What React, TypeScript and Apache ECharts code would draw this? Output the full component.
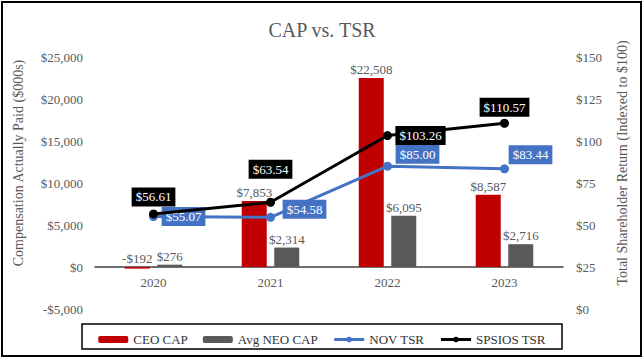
import React, { useEffect, useRef } from "react";
import * as echarts from "echarts";

const years = ["2020", "2021", "2022", "2023"];
const ceoCap = [-192, 7853, 22508, 8587];
const neoCap = [276, 2314, 6095, 2716];
const novTsr = [55.07, 54.58, 85.0, 83.44];
const spsiosTsr = [56.61, 63.54, 103.26, 110.57];
const novLabelOffsets = [[30, 0], [34, -8], [30, -12], [26, -14]];
const spsiosLabelOffsets = [[0, -17], [0, -33], [33, 0], [0, -16]];
const leftAxisTitle = "Compensation Actually Paid ($000s)";
const rightAxisTitle = "Total Shareholder Return (Indexed to $100)";

const FONT = "Liberation Serif";
const GRAY = "#595959";

function money(v: number): string {
  const s = "$" + Math.abs(v).toLocaleString("en-US");
  return v < 0 ? "-" + s : s;
}

export default function App() {
  const ref = useRef<HTMLDivElement>(null);
  useEffect(() => {
    if (!ref.current) return;
    const chart = echarts.init(ref.current, undefined, { renderer: "svg" });
    const gridTop = 57;
    const gridBottom = 51;
    const plotH = 360 - gridTop - gridBottom;
    const zeroShift = (plotH * 5000) / 30000;
    const barLabel = {
      show: true,
      position: "top" as const,
      distance: 2,
      fontFamily: FONT,
      fontSize: 13,
      color: GRAY,
      formatter: (p: any) => money(p.value),
    };
    const lineLabel = (bg: string) => ({
      show: true,
      position: "inside" as const,
      fontFamily: FONT,
      fontSize: 13,
      color: "#fff",
      backgroundColor: bg,
      padding: [3, 4],
      formatter: (p: any) => "$" + Number(p.value).toFixed(2),
    });
    chart.setOption({
      animation: false,
      backgroundColor: "#fff",
      textStyle: { fontFamily: FONT },
      title: {
        text: "CAP vs. TSR",
        left: "center",
        top: 15,
        textStyle: { fontFamily: FONT, fontSize: 20, fontWeight: "normal", color: GRAY },
      },
      grid: { left: 95, right: 81, top: gridTop, bottom: gridBottom },
      legend: {
        top: 328,
        left: "center",
        itemGap: 15,
        itemWidth: 30,
        itemHeight: 7,
        lineStyle: { width: 3 },
        textStyle: { fontFamily: FONT, fontSize: 13, color: "#333" },
        data: ["CEO CAP", "Avg NEO CAP", "NOV TSR", "SPSIOS TSR"],
      },
      xAxis: {
        type: "category",
        data: years,
        position: "bottom",
        offset: -zeroShift,
        axisLine: { onZero: false, lineStyle: { color: "#404040", width: 1.5 } },
        axisTick: { show: false },
        axisLabel: { fontFamily: FONT, fontSize: 13, color: GRAY, margin: 9 },
      },
      yAxis: [
        {
          type: "value",
          min: -5000,
          max: 25000,
          interval: 5000,
          splitLine: { show: false },
          axisLine: { show: false },
          axisTick: { show: false },
          axisLabel: {
            fontFamily: FONT,
            fontSize: 13,
            color: GRAY,
            margin: 12,
            formatter: (v: number) => money(v),
          },
        },
        {
          type: "value",
          min: 0,
          max: 150,
          interval: 25,
          splitLine: { show: false },
          axisLine: { show: false },
          axisTick: { show: false },
          axisLabel: {
            fontFamily: FONT,
            fontSize: 13,
            color: GRAY,
            margin: 13,
            formatter: (v: number) => "$" + v,
          },
        },
      ],
      series: [
        {
          name: "CEO CAP",
          type: "bar",
          data: ceoCap,
          barWidth: 25,
          barGap: "30%",
          itemStyle: { color: "#C00000" },
          label: barLabel,
        },
        {
          name: "Avg NEO CAP",
          type: "bar",
          data: neoCap,
          barWidth: 25,
          itemStyle: { color: "#595959" },
          label: barLabel,
        },
        {
          name: "NOV TSR",
          type: "line",
          yAxisIndex: 1,
          data: novTsr.map((v, i) => ({ value: v, label: { offset: novLabelOffsets[i] } })),
          symbol: "circle",
          symbolSize: 9,
          lineStyle: { color: "#4472C4", width: 3 },
          itemStyle: { color: "#4472C4" },
          label: lineLabel("#4472C4"),
          z: 5,
        },
        {
          name: "SPSIOS TSR",
          type: "line",
          yAxisIndex: 1,
          data: spsiosTsr.map((v, i) => ({ value: v, label: { offset: spsiosLabelOffsets[i] } })),
          symbol: "circle",
          symbolSize: 9,
          lineStyle: { color: "#000", width: 3 },
          itemStyle: { color: "#000" },
          label: lineLabel("#000"),
          z: 6,
        },
      ],
      graphic: [
        {
          type: "rect",
          shape: { x: 2, y: 2, width: 639, height: 354 },
          style: { fill: "none", stroke: "#000", lineWidth: 2 },
          silent: true,
        },
        {
          type: "rect",
          shape: { x: 82, y: 324, width: 480, height: 25 },
          style: { fill: "none", stroke: "#000", lineWidth: 1.5 },
          silent: true,
        },
        {
          type: "text",
          x: 18,
          y: 163,
          rotation: Math.PI / 2,
          style: {
            text: leftAxisTitle,
            fontFamily: FONT,
            fontSize: 14,
            fill: GRAY,
            align: "center",
            verticalAlign: "middle",
          },
          silent: true,
        },
        {
          type: "text",
          x: 622,
          y: 163,
          rotation: Math.PI / 2,
          style: {
            text: rightAxisTitle,
            fontFamily: FONT,
            fontSize: 14,
            fill: GRAY,
            align: "center",
            verticalAlign: "middle",
          },
          silent: true,
        },
      ],
    });
    return () => chart.dispose();
  }, []);
  return (
    <div
      ref={ref}
      style={{ position: "absolute", left: 0, top: 0, width: 644, height: 360, background: "#fff" }}
    />
  );
}
